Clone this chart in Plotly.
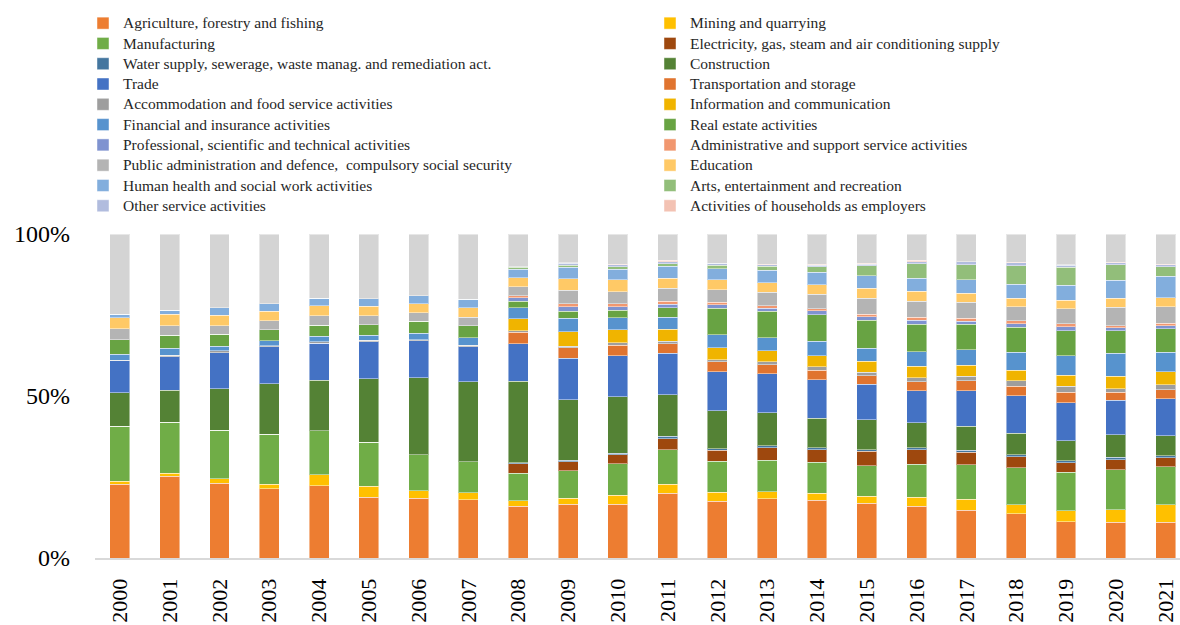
import plotly.graph_objects as go

# Share of gross value added by economic activity, 2000-2021 (100% stacked)
years = ["2000", "2001", "2002", "2003", "2004", "2005", "2006", "2007", "2008", "2009", "2010",
         "2011", "2012", "2013", "2014", "2015", "2016", "2017", "2018", "2019", "2020", "2021"]

agriculture = [22.8, 25.3, 23.1, 21.3, 22.3, 18.8, 18.5, 18.0, 16.0, 16.6, 16.6, 20.0, 17.6, 18.3, 17.9, 16.9, 16.0, 14.7, 13.7, 11.2, 11.0, 11.0]
mining = [0.9, 0.9, 1.3, 1.4, 3.4, 3.3, 2.3, 2.2, 1.6, 1.8, 2.7, 2.8, 2.7, 2.1, 2.1, 2.1, 2.7, 3.4, 2.8, 3.4, 3.9, 5.5]
manufacturing = [16.9, 15.7, 15.1, 15.5, 13.6, 13.6, 11.1, 9.5, 8.6, 8.6, 9.8, 10.6, 9.6, 9.7, 9.6, 9.4, 10.3, 10.7, 11.4, 11.8, 12.3, 11.7]
electricity = [0, 0, 0, 0, 0, 0, 0, 0, 2.8, 2.7, 2.8, 3.3, 3.4, 3.9, 3.8, 4.5, 4.4, 3.8, 3.4, 3.0, 3.2, 2.7]
water = [0, 0, 0, 0, 0, 0, 0, 0, 0.3, 0.5, 0.5, 0.8, 0.5, 0.6, 0.6, 0.5, 0.7, 0.7, 0.6, 0.6, 0.7, 0.6]
construction = [10.4, 9.8, 12.8, 15.6, 15.5, 19.6, 23.7, 24.7, 25.2, 18.7, 17.4, 12.9, 11.7, 10.3, 9.1, 9.3, 7.6, 7.3, 6.6, 6.2, 7.0, 6.3]
trade = [9.9, 10.4, 11.0, 11.4, 11.5, 11.5, 11.5, 10.8, 11.5, 12.7, 12.6, 12.7, 12.0, 12.0, 11.9, 10.9, 9.9, 11.0, 11.6, 11.7, 10.7, 11.3]
transportation = [0, 0, 0, 0, 0, 0, 0, 0, 3.6, 3.3, 3.3, 3.0, 3.1, 2.7, 3.0, 2.6, 2.8, 3.1, 3.0, 3.2, 2.4, 2.9]
accommodation = [0.2, 0.5, 0.6, 0.3, 0.5, 0.4, 0.3, 0.5, 0.4, 0.5, 0.7, 0.7, 0.7, 1.0, 1.0, 1.2, 1.2, 1.4, 1.7, 1.9, 1.1, 1.4]
information = [0, 0, 0, 0, 0, 0, 0, 0, 3.7, 4.5, 4.1, 3.7, 3.7, 3.4, 3.4, 3.4, 3.6, 3.4, 3.2, 3.4, 3.8, 4.1]
financial = [1.8, 2.1, 1.4, 1.5, 1.6, 1.6, 1.9, 2.3, 3.4, 4.1, 3.7, 3.8, 4.0, 4.0, 4.5, 3.9, 4.5, 4.8, 5.6, 6.0, 7.1, 6.0]
real_estate = [4.4, 4.1, 3.8, 3.4, 3.5, 3.2, 3.7, 3.7, 2.1, 2.2, 2.2, 2.8, 8.2, 8.1, 8.2, 8.7, 8.5, 7.9, 7.7, 7.8, 7.0, 7.3]
professional = [0, 0, 0, 0, 0, 0, 0, 0, 1.0, 1.4, 1.2, 1.2, 1.1, 1.0, 1.2, 1.1, 1.2, 0.9, 1.0, 1.2, 0.9, 0.9]
administrative = [0, 0, 0, 0, 0, 0, 0, 0, 0.7, 0.9, 0.8, 0.8, 0.7, 0.8, 0.7, 0.7, 0.9, 0.9, 1.0, 0.9, 0.6, 0.8]
public_admin = [3.4, 2.9, 2.6, 2.8, 2.9, 2.8, 2.7, 2.6, 2.7, 4.1, 3.8, 4.0, 3.9, 4.1, 4.4, 5.0, 5.0, 4.9, 4.4, 4.7, 5.7, 5.1]
education = [3.4, 3.5, 3.3, 3.0, 3.0, 2.9, 2.7, 2.9, 2.8, 3.6, 3.7, 3.1, 3.0, 3.0, 2.9, 3.0, 3.1, 2.8, 2.6, 2.5, 2.9, 2.7]
health = [1.2, 1.2, 2.2, 2.2, 2.3, 2.3, 2.6, 2.6, 2.7, 3.6, 3.2, 3.7, 3.5, 3.8, 3.9, 3.9, 4.0, 4.2, 4.3, 4.7, 5.5, 6.6]
arts = [0, 0, 0, 0, 0, 0, 0, 0, 0.5, 0.6, 0.8, 0.9, 1.0, 1.2, 1.7, 3.1, 4.4, 4.6, 5.7, 5.5, 4.8, 3.0]
other_services = [0, 0, 0, 0, 0, 0, 0, 0, 0.2, 0.5, 0.6, 0.6, 0.6, 0.5, 0.5, 0.5, 0.7, 0.9, 0.9, 0.6, 0.6, 0.6]
households = [0, 0, 0, 0, 0, 0, 0, 0, 0.0, 0.2, 0.2, 0.4, 0.1, 0.2, 0.2, 0.2, 0.4, 0.1, 0.1, 0.2, 0.1, 0.2]
unallocated = [24.7, 23.6, 22.8, 21.6, 19.9, 20.0, 19.0, 20.2, 10.1, 8.9, 9.3, 8.1, 9.0, 9.3, 9.4, 9.1, 8.1, 8.5, 8.8, 9.5, 8.8, 9.3]

series = [
    ("Agriculture, forestry and fishing", agriculture, "#ED7D31"),
    ("Mining and quarrying", mining, "#FFC000"),
    ("Manufacturing", manufacturing, "#70AD47"),
    ("Electricity, gas, steam and air conditioning supply", electricity, "#9E480E"),
    ("Water supply, sewerage, waste manag. and remediation act.", water, "#44769F"),
    ("Construction", construction, "#548235"),
    ("Trade", trade, "#4472C4"),
    ("Transportation and storage", transportation, "#E0742F"),
    ("Accommodation and food service activities", accommodation, "#9E9E9E"),
    ("Information and communication", information, "#F0B400"),
    ("Financial and insurance activities", financial, "#5793CE"),
    ("Real estate activities", real_estate, "#68A343"),
    ("Professional, scientific and technical activities", professional, "#7F93D0"),
    ("Administrative and support service activities", administrative, "#F1976F"),
    ("Public administration and defence,  compulsory social security", public_admin, "#B4B4B4"),
    ("Education", education, "#FFC966"),
    ("Human health and social work activities", health, "#82AEDD"),
    ("Arts, entertainment and recreation", arts, "#92BE7A"),
    ("Other service activities", other_services, "#B1BCDE"),
    ("Activities of households as employers", households, "#F3C2B3"),
]

# legend rows are spaced from the legend font size; the label glyphs are set a bit larger
LEGEND_ROW_FONT = 13.3
LEGEND_TEXT_SIZE = 15.5

fig = go.Figure()
for i, (name, vals, color) in enumerate(series):
    fig.add_trace(go.Bar(
        x=years, y=vals,
        name=f'<span style="font-size:{LEGEND_TEXT_SIZE}px">{name}</span>',
        hovertemplate=f"{name}<br>%{{x}}: %{{y:.1f}}%<extra></extra>",
        marker=dict(color=color, line=dict(color="rgba(255,255,255,0.45)", width=1)),
        legend="legend" if i % 2 == 0 else "legend2",
    ))

fig.add_trace(go.Bar(
    x=years, y=unallocated, name="Unallocated",
    marker=dict(color="#D4D4D4", line=dict(color="rgba(255,255,255,0.45)", width=1)),
    showlegend=False,
))

legend_font = dict(family="Liberation Serif", size=LEGEND_ROW_FONT, color="#262626")

# plot area: 95..1180 px horizontally, 234..558 px vertically
PLOT_W, PLOT_H, PLOT_L, PLOT_B = 1085, 324, 95, 558
LEG_TOP = 8

fig.update_layout(
    width=1180, height=625,
    margin=dict(l=PLOT_L, r=0, t=234, b=67),
    barmode="stack", barnorm="percent", bargap=0.6,
    plot_bgcolor="white", paper_bgcolor="white",
    font=dict(family="Liberation Serif", color="#000000"),
    xaxis=dict(
        type="category", range=[-0.5, 21.29],
        showline=True, linecolor="#D9D9D9", linewidth=2,
        showgrid=False, ticks="", tickangle=-90,
        tickfont=dict(size=22), ticklabelstandoff=10,
    ),
    yaxis=dict(
        range=[0, 100], tickvals=[0, 50, 100], ticktext=["0%", "50%", "100%"],
        showgrid=False, zeroline=False, showline=False, ticks="",
        tickfont=dict(size=24), ticklabelstandoff=24,
    ),
    legend=dict(
        x=(83 - PLOT_L) / PLOT_W, y=(PLOT_B - LEG_TOP) / PLOT_H,
        xanchor="left", yanchor="top", orientation="v", traceorder="normal",
        font=legend_font, bgcolor="rgba(0,0,0,0)",
    ),
    legend2=dict(
        x=(650 - PLOT_L) / PLOT_W, y=(PLOT_B - LEG_TOP) / PLOT_H,
        xanchor="left", yanchor="top", orientation="v", traceorder="normal",
        font=legend_font, bgcolor="rgba(0,0,0,0)",
    ),
)

fig.write_html("out.html", config={"displayModeBar": False})
